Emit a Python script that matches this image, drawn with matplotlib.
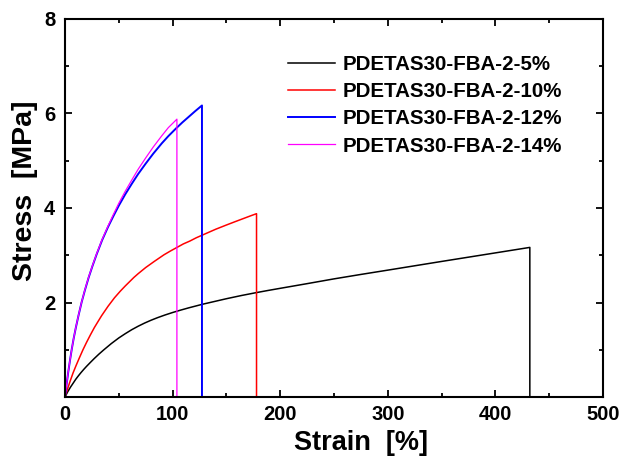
import matplotlib
matplotlib.use("Agg")
import matplotlib.pyplot as plt
from matplotlib.ticker import MultipleLocator

plt.rcParams['font.family'] = ['Liberation Sans', 'DejaVu Sans']
plt.rcParams['font.weight'] = 'bold'

labels = ["PDETAS30-FBA-2-5%", "PDETAS30-FBA-2-10%", "PDETAS30-FBA-2-12%", "PDETAS30-FBA-2-14%"]
colors = ["#000000", "#ff0000", "#0000ff", "#ff00ff"]

strain_5 = [0, 2.5, 5, 7.5, 10, 12.5, 15, 17.5, 20, 23.5, 27, 31.5, 36, 43, 50, 56, 62, 68, 74,
            80, 86, 93, 100, 107.5, 115, 128, 150, 164, 178, 189, 200, 225, 250, 275, 300, 350,
            400, 432, 432]
stress_5 = [0, 0.11, 0.205, 0.29, 0.375, 0.45, 0.52, 0.586, 0.648, 0.73, 0.81, 0.907, 0.997,
            1.13, 1.25, 1.34, 1.424, 1.498, 1.565, 1.625, 1.679, 1.736, 1.788, 1.839, 1.887,
            1.964, 2.08, 2.148, 2.21, 2.256, 2.30, 2.399, 2.50, 2.594, 2.685, 2.869, 3.05,
            3.166, 0]

strain_10 = [0, 2.5, 5, 7.5, 10, 13, 16.7, 20, 23.5, 27.3, 30.5, 34, 37, 40, 43, 46, 51.4, 56,
             60, 64, 68, 75, 83, 92, 98, 104, 110, 116, 122, 128, 134, 140, 150, 158, 165, 172,
             178, 178]
stress_10 = [0, 0.18, 0.35, 0.51, 0.65, 0.81, 1.0, 1.155, 1.31, 1.47, 1.59, 1.72, 1.82, 1.92,
             2.01, 2.10, 2.24, 2.35, 2.44, 2.53, 2.61, 2.74, 2.87, 3.01, 3.09, 3.165, 3.24,
             3.30, 3.37, 3.43, 3.49, 3.55, 3.64, 3.71, 3.77, 3.83, 3.88, 0]

strain_12 = [0, 1.5, 3, 4.5, 6.2, 8, 10, 12.5, 15.5, 18.5, 22, 25.5, 29.4, 34.5, 40, 45, 50, 56,
             62, 68, 75, 82, 90, 96, 103, 109, 115, 121, 127.3, 127.3]
stress_12 = [0, 0.27, 0.525, 0.756, 1.0, 1.232, 1.46, 1.72, 2.01, 2.26, 2.53, 2.77, 3.02, 3.32,
             3.60, 3.83, 4.05, 4.29, 4.51, 4.72, 4.94, 5.15, 5.37, 5.52, 5.68, 5.81, 5.93, 6.05,
             6.17, 0]

strain_14 = [0, 1.5, 3, 4.5, 6.2, 8, 10, 12.5, 15.5, 18.5, 22, 25.5, 29.4, 34.5, 40, 45, 50, 56,
             62, 68, 75, 82, 90, 96, 104, 104]
stress_14 = [0, 0.27, 0.53, 0.76, 1.0, 1.235, 1.465, 1.725, 2.015, 2.27, 2.54, 2.78, 3.03,
             3.335, 3.62, 3.865, 4.10, 4.355, 4.59, 4.82, 5.06, 5.29, 5.53, 5.70, 5.88, 0]

xticks = [0, 100, 200, 300, 400, 500]
yticks = [2, 4, 6, 8]

W, H = 623, 458
fig = plt.figure(figsize=(W / 100, H / 100), dpi=100)
ax = fig.add_axes([65 / W, 1 - 397 / H, (603 - 65) / W, (397 - 19) / H])

series = [(strain_5, stress_5), (strain_10, stress_10), (strain_12, stress_12), (strain_14, stress_14)]
widths = [1.1, 1.1, 1.4, 0.9]
for (xs, ys), c, lab, lw in zip(series, colors, labels, widths):
    ax.plot(xs, ys, color=c, lw=lw, label=lab)

ax.set_xlim(0, 500)
ax.set_ylim(0, 8)
ax.set_xticks(xticks)
ax.set_yticks(yticks)
ax.xaxis.set_minor_locator(MultipleLocator(50))
ax.yaxis.set_minor_locator(MultipleLocator(1))
ax.tick_params(which='both', direction='in', top=True, right=True, width=1.3)
ax.tick_params(which='major', length=5)
ax.tick_params(which='minor', length=3)
ax.tick_params(axis='x', which='major', labelsize=14.5, pad=6)
ax.tick_params(axis='y', which='major', labelsize=14.5, pad=7)
for lbl in ax.get_xticklabels() + ax.get_yticklabels():
    lbl.set_fontweight('bold')
for s in ax.spines.values():
    s.set_linewidth(1.5)

fig.text(361 / W, 1 - 443 / H, "Strain  [%]", fontsize=19.5, fontweight='bold',
         ha='center', va='center')
fig.text(25 / W, 1 - 191 / H, "Stress  [MPa]", fontsize=20.5, fontweight='bold',
         ha='center', va='center', rotation=90)

leg = ax.legend(loc='upper left', bbox_to_anchor=(288 / W, 1 - 55 / H),
                bbox_transform=fig.transFigure, frameon=False,
                prop={'size': 14.8, 'weight': 'bold'}, handlelength=2.28,
                handletextpad=0.39, labelspacing=0.40, borderpad=0, borderaxespad=0)

fig.savefig("out.png", dpi=100)
